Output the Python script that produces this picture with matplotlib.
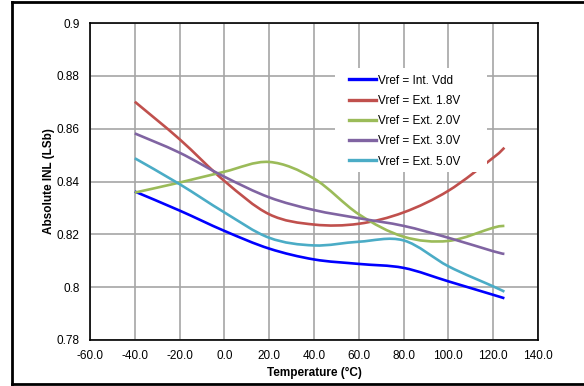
import matplotlib
matplotlib.use("Agg")
import matplotlib.pyplot as plt
from matplotlib.path import Path
from matplotlib.patches import PathPatch, Rectangle
from matplotlib.lines import Line2D
import numpy as np

plt.rcParams['font.family'] = ['Liberation Sans', 'DejaVu Sans']

temps = [-40, -20, 0, 20, 40, 60, 80, 100, 120, 125]
int_vdd = [0.8362, 0.8290, 0.8213, 0.8146, 0.8105, 0.8088, 0.8073, 0.8022, 0.7971, 0.7958]
ext_18 = [0.8702, 0.8560, 0.8402, 0.8276, 0.8237, 0.8240, 0.8283, 0.8365, 0.8490, 0.8528]
ext_20 = [0.8358, 0.8396, 0.8437, 0.8474, 0.8411, 0.8276, 0.8191, 0.8175, 0.8225, 0.8232]
ext_30 = [0.8582, 0.8509, 0.8418, 0.8340, 0.8292, 0.8261, 0.8232, 0.8187, 0.8136, 0.8126]
ext_50 = [0.8488, 0.8390, 0.8283, 0.8187, 0.8158, 0.8172, 0.8177, 0.8079, 0.8003, 0.7983]

labels = ["Vref = Int. Vdd", "Vref = Ext. 1.8V", "Vref = Ext. 2.0V",
          "Vref = Ext. 3.0V", "Vref = Ext. 5.0V"]
series = [int_vdd, ext_18, ext_20, ext_30, ext_50]
colors = ["#0000FF", "#C0504D", "#9BBB59", "#8064A2", "#4BACC6"]

x_ticks = [-60, -40, -20, 0, 20, 40, 60, 80, 100, 120, 140]
y_ticks = [0.78, 0.80, 0.82, 0.84, 0.86, 0.88, 0.90]
y_tick_labels = ["0.78", "0.8", "0.82", "0.84", "0.86", "0.88", "0.9"]

W, H = 584, 386


def smooth_path(xs, ys):
    pts = np.column_stack([xs, ys]).astype(float)
    n = len(pts)
    verts = [pts[0]]
    codes = [Path.MOVETO]
    for i in range(n - 1):
        p0 = pts[i - 1] if i > 0 else pts[i]
        p1 = pts[i]
        p2 = pts[i + 1]
        p3 = pts[i + 2] if i + 2 < n else pts[i + 1]
        c1 = p1 + (p2 - p0) / 6.0
        c2 = p2 - (p3 - p1) / 6.0
        verts += [c1, c2, p2]
        codes += [Path.CURVE4] * 3
    return Path(verts, codes)


def fx(px):
    return px / W


def fy(py):
    return 1 - py / H


fig = plt.figure(figsize=(5.84, 3.86), dpi=100)
ax = fig.add_axes([fx(90), fy(340), (538 - 90) / W, (340 - 23) / H])

# outer frame (right side lies beyond the picture)
for xs, ys in [((fx(12), fx(600)), (fy(2), fy(2))),
               ((fx(12), fx(12)), (fy(2), fy(383.5))),
               ((fx(12), fx(600)), (fy(383.5), fy(383.5)))]:
    fig.add_artist(Line2D(xs, ys, transform=fig.transFigure, color="black",
                          linewidth=2.0, solid_capstyle="projecting"))

ax.set_xlim(-60, 140)
ax.set_ylim(0.78, 0.90)
ax.set_xticks(x_ticks)
ax.set_xticklabels([f"{t:.1f}" for t in x_ticks])
ax.set_yticks(y_ticks)
ax.set_yticklabels(y_tick_labels)
ax.tick_params(axis="y", length=0, labelsize=8.5, pad=7.5)
ax.tick_params(axis="x", length=0, labelsize=8.5, pad=7.5)
ax.grid(True, color="#a6a6a6", linewidth=1.2)
ax.set_axisbelow(True)
for s in ax.spines.values():
    s.set_color("black")
    s.set_linewidth(1.2)

for ys, c in zip(series, colors):
    patch = PathPatch(smooth_path(temps, ys), facecolor="none", edgecolor=c,
                      linewidth=1.9, capstyle="butt", zorder=3)
    ax.add_patch(patch)

ax.set_xlabel("Temperature (°C)", fontsize=8.5, fontweight="bold", labelpad=3)
ax.set_ylabel("Absolute INL (LSb)", fontsize=8.5, fontweight="bold", labelpad=1)

# legend background
fig.add_artist(Rectangle((fx(335), fy(172)), (487 - 335) / W, (172 - 68) / H,
                         transform=fig.transFigure, facecolor="white",
                         edgecolor="none", zorder=4))

handles = [Line2D([0], [0], color=c, linewidth=2.4) for c in colors]
leg = fig.legend(handles, labels, loc="upper left",
                 bbox_to_anchor=(fx(349), fy(74.5)), bbox_transform=fig.transFigure,
                 fontsize=8.5, frameon=False,
                 handlelength=2.3, handletextpad=0.12, labelspacing=0.70,
                 borderpad=0, borderaxespad=0)
leg.set_zorder(5)

fig.savefig("out.png", dpi=100)
